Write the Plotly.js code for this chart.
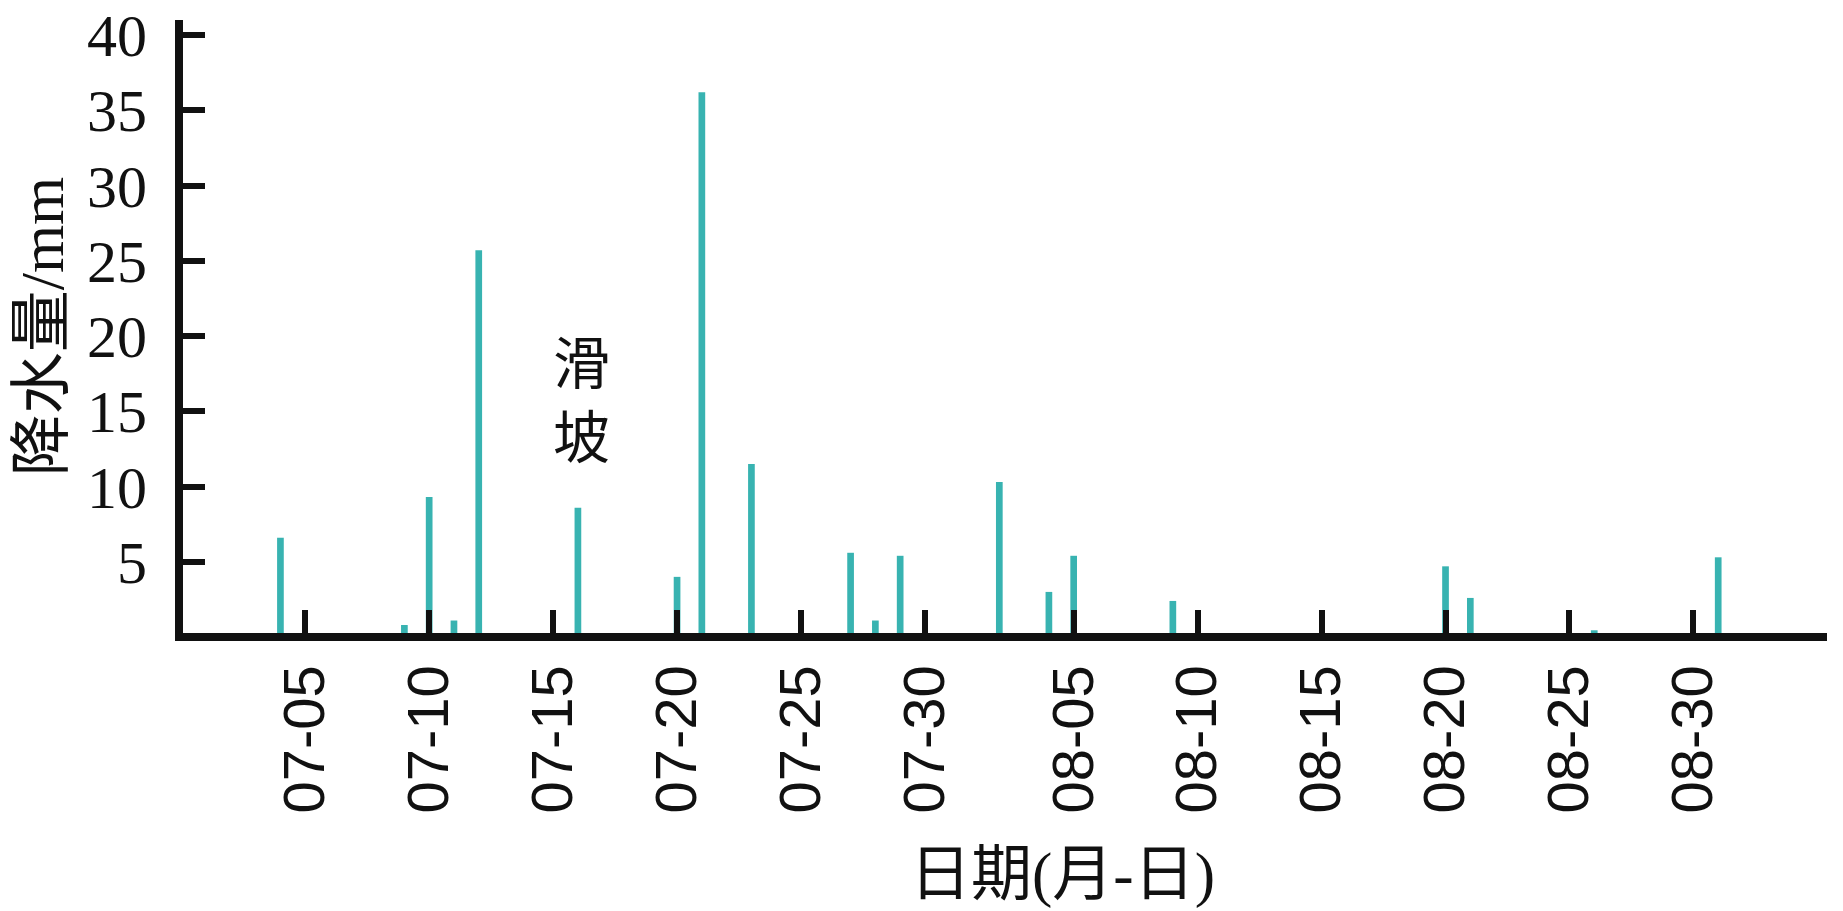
<!DOCTYPE html>
<html>
<head>
<meta charset="utf-8">
<script src="https://cdn.plot.ly/plotly-3.0.1.min.js"></script>
<style>
  html, body { margin: 0; padding: 0; background: #ffffff; }
  #chart { width: 1843px; height: 911px; }
</style>
</head>
<body>
<div id="chart"></div>
<script>
// ---- data ----
const YEAR = '2021';
const rainDates = ['07-04','07-09','07-10','07-11','07-12','07-16','07-20','07-21','07-23','07-27',
                   '07-28','07-29','08-02','08-04','08-05','08-09','08-20','08-21','08-26','08-31'];
const rainValues = [6.6, 0.8, 9.3, 1.1, 25.7, 8.6, 4.0, 36.2, 11.5, 5.6,
                    1.1, 5.4, 10.3, 3.0, 5.4, 2.4, 4.7, 2.6, 0.45, 5.3];
const tickLabels = ['07-05','07-10','07-15','07-20','07-25','07-30',
                    '08-05','08-10','08-15','08-20','08-25','08-30'];
const yTickValues = [5, 10, 15, 20, 25, 30, 35, 40];
const xRange = ['06-30 01:40', '09-04 09:20'];
const yRange = [0.27, 41.0];
const yTitle = '降水量/mm';
const xTitle = '日期(月-日)';
const eventLabel = '滑<br>坡';

const toDate = s => YEAR + '-' + s;
const DAY = 86400000;

const trace = {
  type: 'bar',
  x: rainDates.map(toDate),
  y: rainValues,
  width: rainDates.map(() => 0.27 * DAY),
  marker: { color: '#38B3B1', line: { width: 0 } },
  hoverinfo: 'x+y',
  showlegend: false
};

const layout = {
  width: 1843,
  height: 911,
  margin: { l: 183, r: 16, t: 20, b: 278, pad: 0 },
  paper_bgcolor: '#ffffff',
  plot_bgcolor: '#ffffff',
  showlegend: false,
  xaxis: {
    type: 'date',
    range: xRange.map(toDate),
    tickvals: tickLabels.map(toDate),
    ticktext: tickLabels,
    tickangle: -90,
    ticks: 'inside',
    ticklen: 23,
    tickwidth: 6,
    tickcolor: '#111111',
    showline: true,
    linecolor: '#111111',
    linewidth: 8,
    showgrid: false,
    zeroline: false,
    tickfont: { family: 'Liberation Sans, Arial, sans-serif', size: 58, color: '#111111' },
    ticklabelstandoff: 1
  },
  yaxis: {
    range: yRange,
    tickvals: yTickValues,
    ticks: 'inside',
    ticklen: 22,
    tickwidth: 6,
    tickcolor: '#111111',
    showline: true,
    linecolor: '#111111',
    linewidth: 8,
    showgrid: false,
    zeroline: false,
    tickfont: { family: 'Liberation Serif, Times New Roman, serif', size: 60, color: '#111111' },
    ticklabelstandoff: 16,
    title: {
      text: yTitle,
      font: { family: 'Liberation Serif, Noto Sans CJK SC, serif', size: 62, color: '#111111' },
      standoff: 6
    }
  },
  annotations: [
    {
      text: eventLabel,
      xref: 'paper', yref: 'paper',
      x: 0.2427, y: 0.3866,
      xanchor: 'center', yanchor: 'middle',
      showarrow: false,
      font: { family: 'Noto Sans CJK SC, sans-serif', size: 57, color: '#111111' }
    },
    {
      text: xTitle,
      xref: 'paper', yref: 'paper',
      x: 0.535, y: -0.3948,
      xanchor: 'center', yanchor: 'middle',
      showarrow: false,
      font: { family: 'Liberation Serif, Noto Sans CJK SC, serif', size: 61, color: '#111111' }
    }
  ]
};

Plotly.newPlot('chart', [trace], layout, { displayModeBar: false, staticPlot: true });
</script>
</body>
</html>
